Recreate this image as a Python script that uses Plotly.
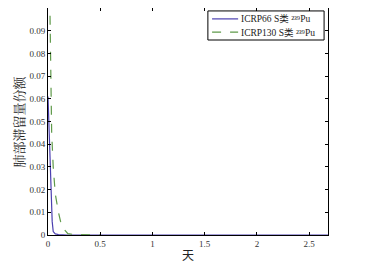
import plotly.graph_objects as go

# Data
t_icrp66 = [0, 0.005, 0.01, 0.015, 0.02, 0.03, 0.035, 0.04, 0.05, 0.07, 0.1, 0.18, 0.5, 2.68]
v_icrp66 = [0.061, 0.054, 0.046, 0.038, 0.03, 0.016, 0.01, 0.006, 0.0015, 0.0005, 0.0002, 0.0, 0.0, 0.0]

t_icrp130 = [0, 0.01, 0.02, 0.03, 0.035, 0.05, 0.07, 0.1, 0.12, 0.145, 0.19, 0.25, 0.35, 0.5]
v_icrp130 = [0.16, 0.13, 0.1, 0.06, 0.045, 0.03, 0.018, 0.01, 0.006, 0.003, 0.0006, 0.0002, 0.0001, 0.0]

x_ticks = [0, 0.5, 1, 1.5, 2, 2.5]
x_ticklabels = ["0", "0.5", "1", "1.5", "2", "2.5"]
y_ticks = [0, 0.01, 0.02, 0.03, 0.04, 0.05, 0.06, 0.07, 0.08, 0.09]
y_ticklabels = ["0", "0.01", "0.02", "0.03", "0.04", "0.05", "0.06", "0.07", "0.08", "0.09"]

names = ["ICRP66 S类 ²³⁹Pu", "ICRP130 S类 ²³⁹Pu"]
colors = ["#4b3fb0", "#5f9a4a"]
dashes = ["solid", "dash"]
y_title = "肺部滞留量份额"
x_title = "天"

serif = "Liberation Serif, Noto Sans CJK SC, serif"

fig = go.Figure()
fig.add_trace(go.Scatter(x=t_icrp66, y=v_icrp66, mode="lines", name=names[0],
                         line=dict(color=colors[0], width=1.2, dash=dashes[0])))
fig.add_trace(go.Scatter(x=t_icrp130, y=v_icrp130, mode="lines", name=names[1],
                         line=dict(color=colors[1], width=1.2, dash=dashes[1])))

# Compact legend (box, samples, labels) in paper coordinates
legend_rows_y = [0.952, 0.894]
shapes = [dict(type="rect", xref="paper", yref="paper", x0=0.571, x1=0.986, y0=0.859, y1=0.987,
               line=dict(color="black", width=1), fillcolor="white", layer="above")]
annotations = []
for name, c, d, yy in zip(names, colors, dashes, legend_rows_y):
    shapes.append(dict(type="line", xref="paper", yref="paper", x0=0.586, x1=0.679, y0=yy, y1=yy,
                       line=dict(color=c, width=1.2, dash=d), layer="above"))
    annotations.append(dict(xref="paper", yref="paper", x=0.682, y=yy, xanchor="left", yanchor="middle",
                            text=name, showarrow=False,
                            font=dict(family=serif, size=9.5, color="#222")))

# Y-axis title placed as a rotated annotation
annotations.append(dict(xref="paper", yref="paper", x=-0.107, y=0.5, xanchor="center", yanchor="middle",
                        text=y_title, textangle=-90, showarrow=False,
                        font=dict(family="Noto Serif CJK SC, Noto Sans CJK SC", size=13, color="#222")))

axis_common = dict(showline=True, linecolor="black", linewidth=1, mirror="ticks",
                   ticks="inside", ticklen=3, tickcolor="black", showgrid=False,
                   zeroline=False, automargin=False,
                   tickfont=dict(family=serif, size=9, color="#333"))

fig.update_layout(
    width=358, height=262,
    margin=dict(l=40, r=38, t=0, b=35, autoexpand=False),
    paper_bgcolor="white", plot_bgcolor="white",
    showlegend=False,
    shapes=shapes,
    annotations=annotations,
    xaxis=dict(range=[0, 2.68], tickvals=x_ticks, ticktext=x_ticklabels,
               title=dict(text=x_title, font=dict(family="Noto Sans CJK SC", size=12, color="#222"), standoff=3),
               **axis_common),
    yaxis=dict(range=[0, 0.1], tickvals=y_ticks, ticktext=y_ticklabels, **axis_common),
)

fig.write_html("out.html")
